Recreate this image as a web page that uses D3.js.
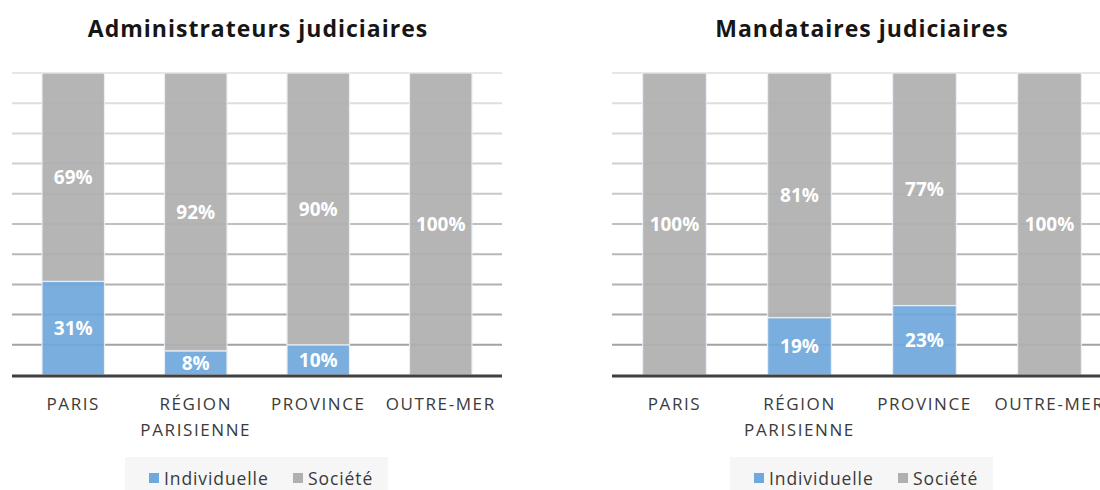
<!DOCTYPE html>
<html>
<head>
  <meta charset="utf-8">
  <script src="https://cdnjs.cloudflare.com/ajax/libs/d3/7.8.5/d3.min.js"></script>
  <style>
    body { margin: 0; background: #fff; }
    svg { display: block; font-family: "Open Sans", sans-serif; }
  </style>
</head>
<body>
<svg id="chart" width="1100" height="490"></svg>
<script>
  // data
  var categories = ["PARIS", "RÉGION PARISIENNE", "PROVINCE", "OUTRE-MER"];
  var adminIndividuelle = [31, 8, 10, 0];
  var adminSociete = [69, 92, 90, 100];
  var mandIndividuelle = [0, 19, 23, 0];
  var mandSociete = [100, 81, 77, 100];
  var gridTicks = [0, 10, 20, 30, 40, 50, 60, 70, 80, 90, 100];
  var seriesNames = ["Individuelle", "Société"];
  var colors = ["#6fa8dc", "#b0b0b0"];

  var svg = d3.select("#chart");

  function panel(title, indiv, soc, x0, x1, titleX, legendX) {
    var g = svg.append("g");
    var x = d3.scaleBand().domain(categories).range([x0, x1]).paddingInner(0.49).paddingOuter(0.245);
    var y = d3.scaleLinear().domain([0, 100]).range([375, 73]);
    var gridColor = d3.scaleLinear().domain([100, 0]).range(["#e6e6e6", "#9a9a9a"]);

    g.append("text")
      .attr("x", titleX).attr("y", 37)
      .attr("text-anchor", "middle")
      .style("font-size", "23px").style("font-weight", "bold").style("fill", "#161616")
      .style("letter-spacing", "1px")
      .text(title);

    g.selectAll("line.grid").data(gridTicks.slice(1)).enter().append("line")
      .attr("class", "grid")
      .attr("x1", x0).attr("x2", x1)
      .attr("y1", d => y(d)).attr("y2", d => y(d))
      .style("stroke", d => gridColor(d)).style("stroke-width", 2);

    var rows = categories.map((c, i) => ({ cat: c, indiv: indiv[i], soc: soc[i] }));
    var stacked = d3.stack().keys(["indiv", "soc"])(rows);

    var layers = g.selectAll("g.layer").data(stacked).enter().append("g")
      .attr("class", "layer")
      .style("fill", (d, i) => colors[i]);

    layers.selectAll("rect").data(d => d.filter(s => s[1] > s[0])).enter().append("rect")
      .attr("x", d => x(d.data.cat))
      .attr("width", x.bandwidth())
      .attr("y", d => y(d[1]))
      .attr("height", d => y(d[0]) - y(d[1]))
      .style("opacity", 0.93)
      .style("stroke", "#e8eef4").style("stroke-width", 1.2);

    layers.selectAll("text").data(d => d.filter(s => s[1] > s[0])).enter().append("text")
      .attr("x", d => x(d.data.cat) + x.bandwidth() / 2)
      .attr("y", d => (y(d[0]) + y(d[1])) / 2 + 7)
      .attr("text-anchor", "middle")
      .style("fill", "#fff").style("font-size", "19px").style("font-weight", "bold")
      .text(d => (d[1] - d[0]) + "%");

    g.append("line")
      .attr("x1", x0).attr("x2", x1)
      .attr("y1", y(0) + 1).attr("y2", y(0) + 1)
      .style("stroke", "#404040").style("stroke-width", 3);

    var labels = g.selectAll("text.cat").data(categories).enter().append("text")
      .attr("class", "cat")
      .attr("x", d => x(d) + x.bandwidth() / 2)
      .attr("y", 410)
      .attr("text-anchor", "middle")
      .style("fill", "#3a3a3a").style("font-size", "17px").style("letter-spacing", "1.6px");
    labels.each(function (d) {
      var words = d.split(" ");
      var t = d3.select(this);
      words.forEach((w, i) => t.append("tspan").attr("x", x(d) + x.bandwidth() / 2).attr("dy", i ? 26 : 0).text(w));
    });

    var lg = g.append("g").attr("transform", "translate(" + legendX + ",457)");
    lg.append("rect").attr("width", 263).attr("height", 33).style("fill", "#f6f6f6");
    var items = lg.selectAll("g").data(seriesNames).enter().append("g")
      .attr("transform", (d, i) => "translate(" + (i ? 168 : 24) + ",0)");
    items.append("rect").attr("y", 16).attr("width", 10).attr("height", 10).style("fill", (d, i) => colors[i]);
    items.append("text").attr("x", 15).attr("y", 28)
      .style("font-size", "17.5px").style("fill", "#3a3a3a").style("letter-spacing", "0.9px").text(d => d);
  }

  panel("Administrateurs judiciaires", adminIndividuelle, adminSociete, 12, 502, 258, 125);
  panel("Mandataires judiciaires", mandIndividuelle, mandSociete, 612, 1112, 862, 730);
</script>
</body>
</html>
